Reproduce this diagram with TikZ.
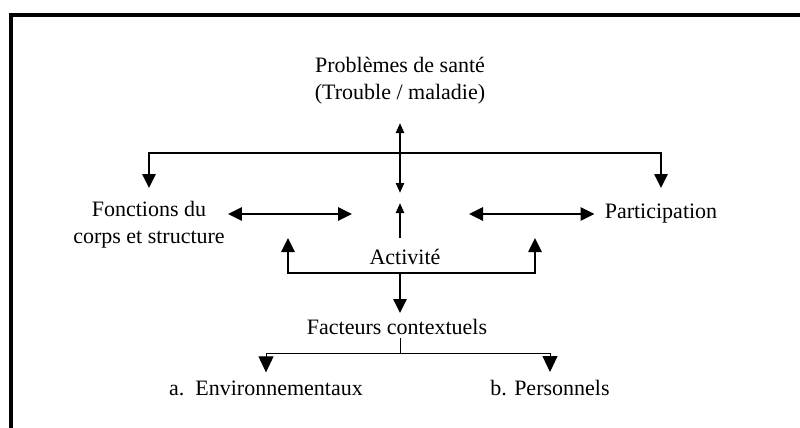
\documentclass[tikz,border=0pt]{standalone}
\usepackage{fontspec}
\setmainfont{Liberation Serif}
\usetikzlibrary{arrows.meta}

\begin{document}
\begin{tikzpicture}[x=1pt, y=-1pt, >={Triangle[length=14pt,width=13pt]},
		every node/.style={font=\fontsize{22}{27}\selectfont, inner sep=0pt, align=center},
		link/.style={line width=2.6pt},
		thin link/.style={line width=0.9pt, >={Triangle[length=16pt,width=15pt]}},
		small tips/.style={line width=2.2pt, >={Triangle[length=10pt,width=8pt]}}]

		\useasboundingbox (0,0) rectangle (800,428);
		\draw [line width=4pt] (11,430) -- (11,15) -- (802,15);

		\node (sante) at (400,81) {Problèmes de santé\\(Trouble / maladie)};
		\node (fonctions) at (149,225) {Fonctions du\\corps et structure};
		\node (participation) at (661,214) {Participation};
		\node (activite) at (405,257) {Activité};
		\node (facteurs) at (397,327) {Facteurs contextuels};
		\node (env) at (266,388) {a.\ \ Environnementaux};
		\node (perso) at (550,388) {b. Personnels};

		\coordinate (top bar) at (400,153);
		\coordinate (low bar) at (400,273);
		\coordinate (fork) at (400,353);

		\draw [small tips, <->] ([yshift=30pt]top bar) -- ([yshift=-40pt]top bar);
		\draw [small tips, ->] ([yshift=35pt]low bar) -- ([yshift=70pt]low bar);

		\draw [link, ->] (top bar) -| (fonctions.north |- 0,188);
		\draw [link, ->] (top bar) -| (participation.north |- 0,188);

		\draw [link, <->] ([xshift=3pt]fonctions.east |- 0,214) -- (352,214);
		\draw [link, <->] (469,214) -- ([xshift=-10pt]participation.west);

		\draw [link, <->] (288,238) |- (low bar) -| (535,238);
		\draw [link, ->] (low bar) -- ([yshift=6pt]facteurs.north -| low bar);

		\draw [thin link] ([yshift=-3pt]facteurs.south -| fork) -- (fork);
		\draw [thin link, ->] (fork) -| ([yshift=8pt]env.north);
		\draw [thin link, ->] (fork) -| ([yshift=8pt]perso.north);

	\end{tikzpicture}
\end{document}
